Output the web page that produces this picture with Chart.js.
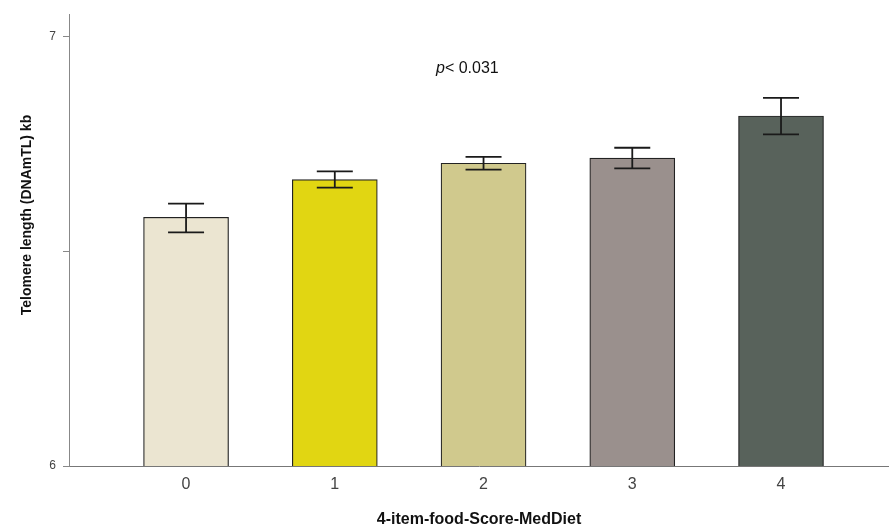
<!DOCTYPE html>
<html>
<head>
<meta charset="utf-8">
<script src="https://cdn.jsdelivr.net/npm/chart.js@4.4.1/dist/chart.umd.min.js"></script>
<style>
  html, body { margin: 0; padding: 0; background: #fff; }
  canvas { display: block; }
</style>
</head>
<body>
<canvas id="myChart" width="889" height="527"></canvas>
<script>
// score groups and telomere length means with error bar limits
var categories = ["0", "1", "2", "3", "4"];
var means = [6.579, 6.667, 6.705, 6.717, 6.815];
var errLow = [6.544, 6.648, 6.690, 6.693, 6.772];
var errHigh = [6.611, 6.686, 6.720, 6.741, 6.857];
var barColors = ["#ebe5d1", "#e1d612", "#d0c98d", "#9a908d", "#58625b"];

var yTicks = [6, 6.5, 7];
var yTickLabels = ["6", "", "7"];

var xTitle = "4-item-food-Score-MedDiet";
var yTitle = "Telomere length (DNAmTL) kb";
var pSymbol = "p";
var pText = "< 0.031";

var font = "'Liberation Sans', Arial, sans-serif";

// error bars drawn on top of each bar
var errorBars = {
  id: "errorBars",
  afterDatasetsDraw: function(chart) {
    var ctx = chart.ctx;
    var xs = chart.scales.x, ys = chart.scales.y;
    ctx.save();
    ctx.strokeStyle = "#1a1a1a";
    ctx.lineWidth = 1.8;
    for (var i = 0; i < means.length; i++) {
      var x = xs.getPixelForValue(i);
      var top = ys.getPixelForValue(errHigh[i]);
      var bot = ys.getPixelForValue(errLow[i]);
      ctx.beginPath();
      ctx.moveTo(x, top); ctx.lineTo(x, bot);
      ctx.moveTo(x - 18, top); ctx.lineTo(x + 18, top);
      ctx.moveTo(x - 18, bot); ctx.lineTo(x + 18, bot);
      ctx.stroke();
    }
    ctx.restore();
  }
};

// p value note and the y axis title
var annotations = {
  id: "annotations",
  afterDraw: function(chart) {
    var ctx = chart.ctx;
    ctx.save();
    ctx.fillStyle = "#111";
    ctx.textBaseline = "alphabetic";
    ctx.textAlign = "left";
    ctx.font = "italic 16px " + font;
    ctx.fillText(pSymbol, 436, 73);
    var w = ctx.measureText(pSymbol).width;
    ctx.font = "16px " + font;
    ctx.fillText(pText, 436 + w, 73);

    ctx.translate(27, 215);
    ctx.rotate(-Math.PI / 2);
    ctx.textAlign = "center";
    ctx.textBaseline = "middle";
    ctx.font = "bold 14px " + font;
    ctx.fillText(yTitle, 0, 0);
    ctx.restore();
  }
};

new Chart("myChart", {
  type: "bar",
  data: {
    datasets: [{
      data: means.map(function(v, i) { return {x: i, y: v}; }),
      backgroundColor: barColors,
      borderColor: "#222",
      borderWidth: 1.2,
      borderSkipped: false,
      barThickness: 85
    }]
  },
  plugins: [errorBars, annotations],
  options: {
    responsive: false,
    animation: false,
    devicePixelRatio: 1,
    layout: { padding: { top: 12, left: 0, right: 0, bottom: 0 } },
    plugins: {
      legend: { display: false },
      tooltip: { enabled: false }
    },
    scales: {
      x: {
        type: "linear",
        offset: false,
        min: -0.787,
        max: 4.726,
        afterFit: function(scale) { scale.height = 61; },
        afterBuildTicks: function(scale) {
          scale.ticks = categories.map(function(c, i) { return {value: i}; });
        },
        ticks: {
          padding: 9,
          color: "#444",
          font: { family: font, size: 16 },
          callback: function(value) { return categories[value]; }
        },
        grid: { display: false, drawTicks: false },
        border: { display: true, color: "#777", width: 1 },
        title: {
          display: true,
          text: xTitle,
          color: "#111",
          padding: { top: 0, bottom: -2 },
          font: { family: font, size: 16, weight: "bold" }
        }
      },
      y: {
        min: 6,
        max: 7.052,
        afterFit: function(scale) { scale.width = 69; },
        afterBuildTicks: function(scale) {
          scale.ticks = yTicks.map(function(v) { return {value: v}; });
        },
        ticks: {
          padding: 7,
          color: "#444",
          font: { family: font, size: 12 },
          callback: function(value, index) { return yTickLabels[index]; }
        },
        grid: {
          display: true,
          drawOnChartArea: false,
          drawTicks: true,
          tickLength: 6,
          color: "#888"
        },
        border: { display: true, color: "#888", width: 1 }
      }
    }
  }
});
</script>
</body>
</html>
